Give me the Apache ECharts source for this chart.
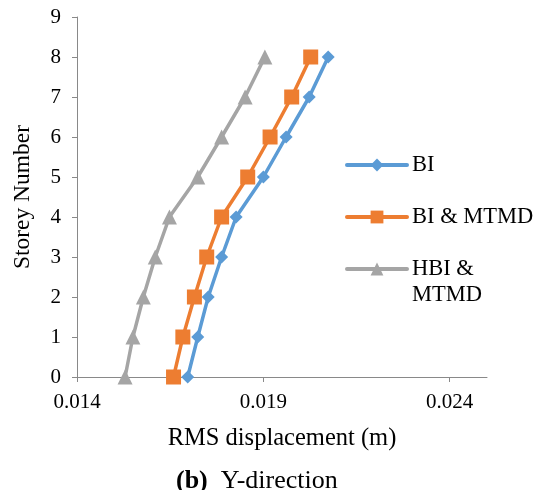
<!DOCTYPE html>
<html><head><meta charset="utf-8">
<script src="https://cdn.jsdelivr.net/npm/echarts@6/dist/echarts.min.js"></script>
<style>html,body{margin:0;padding:0;background:#fff}#c{width:536px;height:490px}</style>
</head><body><div id="c"></div>
<script>
const storeys = [0, 1, 2, 3, 4, 5, 6, 7, 8];
const bi      = [0.01697, 0.01724, 0.01752, 0.01788, 0.01827, 0.01900, 0.01961, 0.02023, 0.02074];
const biMtmd  = [0.01659, 0.01684, 0.01715, 0.01748, 0.01788, 0.01858, 0.01918, 0.01976, 0.02027];
const hbiMtmd = [0.01529, 0.01550, 0.01578, 0.01610, 0.01648, 0.01724, 0.01788, 0.01851, 0.01904];
const xTicks = [0.014, 0.019, 0.024];
const yTicks = [0, 1, 2, 3, 4, 5, 6, 7, 8, 9];
const names = ['BI', 'BI & MTMD', 'HBI & MTMD'];
const colors = ['#5B9BD5', '#ED7D31', '#A5A5A5'];

const FONT = '"Liberation Serif", "Times New Roman", serif';
const chart = echarts.init(document.getElementById('c'), null, {renderer: 'canvas'});

function mk(name, vals, color, symbol, size) {
  return {
    name: name, type: 'line',
    data: storeys.map((s, i) => [vals[i], s]),
    symbol: symbol, symbolSize: size,
    lineStyle: {color: color, width: 3.5},
    itemStyle: {color: color},
    emphasis: {disabled: true},
    animation: false
  };
}

const legendBase = {
  orient: 'vertical', left: 345, padding: 0,
  itemWidth: 60, itemHeight: 16, itemGap: 0,
  lineStyle: {width: 4, cap: 'round'},
  textStyle: {fontFamily: FONT, fontSize: 22.5, color: '#000', lineHeight: 26},
  selectedMode: false
};

chart.setOption({
  backgroundColor: '#fff',
  animation: false,
  title: {
    text: '{b|(b)}  Y-direction',
    left: 176, top: 468,
    padding: 0,
    textStyle: {
      fontFamily: FONT, fontSize: 26, fontWeight: 'normal', color: '#000',
      rich: {b: {fontFamily: FONT, fontSize: 26, fontWeight: 'bold', color: '#000'}}
    }
  },
  grid: {left: 77, right: 49, top: 17, bottom: 113},
  legend: [
    Object.assign({}, legendBase, {top: 152, data: [names[0]]}),
    Object.assign({}, legendBase, {top: 204, data: [names[1]]}),
    Object.assign({}, legendBase, {top: 230, data: [names[2]],
      formatter: function (n) { return ' \nHBI &\nMTMD'; }})
  ],
  xAxis: {
    type: 'value', min: 0.014, max: 0.025, interval: 0.005,
    name: 'RMS displacement (m)', nameLocation: 'middle', nameGap: 49,
    nameTextStyle: {fontFamily: FONT, fontSize: 24.5, color: '#000'},
    axisLine: {show: true, onZero: false, lineStyle: {color: '#898989', width: 1}},
    axisTick: {show: true, length: 5, lineStyle: {color: '#898989'}, customValues: xTicks},
    axisLabel: {fontFamily: FONT, fontSize: 21, color: '#000', margin: 15,
      customValues: xTicks, formatter: v => v.toFixed(3)},
    splitLine: {show: false}
  },
  yAxis: {
    type: 'value', min: 0, max: 9, interval: 1,
    name: 'Storey Number', nameLocation: 'middle', nameGap: 42, nameRotate: 90,
    nameTextStyle: {fontFamily: FONT, fontSize: 23.5, color: '#000'},
    axisLine: {show: true, lineStyle: {color: '#898989', width: 1}},
    axisTick: {show: true, length: 5, lineStyle: {color: '#898989'}},
    axisLabel: {fontFamily: FONT, fontSize: 21, color: '#000', margin: 16,
      customValues: yTicks},
    splitLine: {show: false}
  },
  series: [
    mk(names[0], bi, colors[0], 'diamond', 13),
    mk(names[1], biMtmd, colors[1], 'rect', 15),
    mk(names[2], hbiMtmd, colors[2], 'triangle', 15)
  ]
});
</script></body></html>
